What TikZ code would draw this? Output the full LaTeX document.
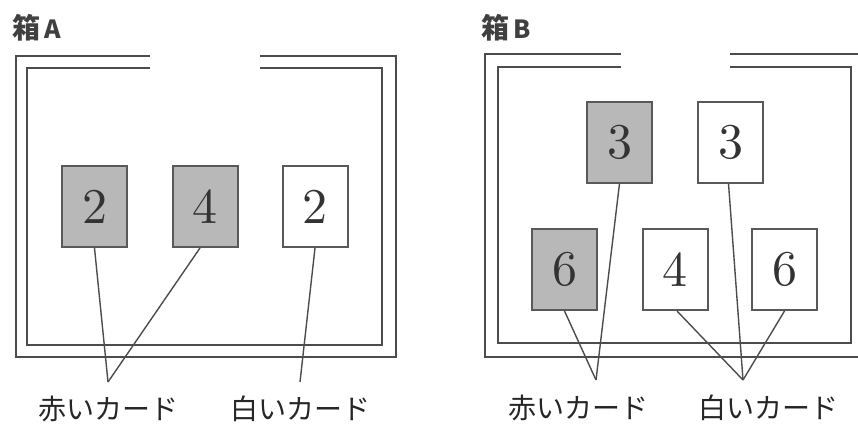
\documentclass[tikz,border=0pt]{standalone}
\usepackage{fontspec}
\newfontfamily\cjk{Noto Sans CJK JP}
\newfontfamily\dig{lmroman10-regular}[Extension=.otf]
\begin{document}
\begin{tikzpicture}[x=1pt,y=-1pt,
  wall/.style={draw=black!70,line width=2.4pt},
  card/.style={draw=black!65,line width=2pt,minimum width=65pt,minimum height=81pt,inner sep=0pt,
    font=\dig\fontsize{50}{50}\selectfont,text=black!80},
  redcard/.style={card,fill=black!28},
  whitecard/.style={card,fill=white},
  conn/.style={draw=black!70,line width=1.4pt},
  lab/.style={font=\cjk\fontsize{28}{28}\selectfont,text=black!85,inner sep=0pt},
  ttl/.style={font=\cjk\bfseries\fontsize{28}{28}\selectfont,text=black!75,inner sep=0pt,anchor=west}]
\useasboundingbox (0,0) rectangle (858,423);
\clip (0,0) rectangle (858,423);
% titles
\node[ttl] (tA) at (12,28) {箱\,{\fontsize{25}{25}\selectfont A}};
\node[ttl] (tB) at (481,28) {箱\,{\fontsize{25}{25}\selectfont B}};
% box A
\draw[wall] (150,56) -- (16,56) -- (16,357) -- (396,357) -- (396,56) -- (260,56);
\draw[wall] (150,68) -- (27,68) -- (27,345) -- (382,345) -- (382,68) -- (260,68);
% box B
\draw[wall] (621,54) -- (485,54) -- (485,357) -- (875,357);
\draw[wall] (730,54) -- (875,54);
\draw[wall] (621,67) -- (498,67) -- (498,343) -- (851,343) -- (851,67) -- (730,67);
% cards A
\node[redcard] (a1) at (94.5,206.5) {2};
\node[redcard] (a2) at (205,206.5) {4};
\node[whitecard] (a3) at (315,206.5) {2};
% cards B
\node[redcard] (b1) at (619.5,142) {3};
\node[whitecard] (b2) at (730.5,142) {3};
\node[redcard] (b3) at (564.5,269.5) {6};
\node[whitecard] (b4) at (675,269.5) {4};
\node[whitecard] (b5) at (784.5,269.5) {6};
% labels
\node[lab] (lar) at (108,409) {赤いカード};
\node[lab] (law) at (300,409) {白いカード};
\node[lab] (lbr) at (578,408) {赤いカード};
\node[lab] (lbw) at (768,408) {白いカード};
\coordinate (pa) at (108,382);
\coordinate (pw) at (300,382);
\coordinate (pbr) at (596,380);
\coordinate (pbw) at (743,380);
% connectors A
\draw[conn] (a1.south) -- (pa);
\draw[conn] ([xshift=-5pt]a2.south) -- (pa);
\draw[conn] (a3.south) -- (pw);
% connectors B
\draw[conn] (b1.south) -- (pbr);
\draw[conn] (b3.south) -- (pbr);
\draw[conn] ([xshift=-2pt]b2.south) -- (pbw);
\draw[conn] ([xshift=2pt]b4.south) -- (pbw);
\draw[conn] (b5.south) -- (pbw);
\end{tikzpicture}
\end{document}
